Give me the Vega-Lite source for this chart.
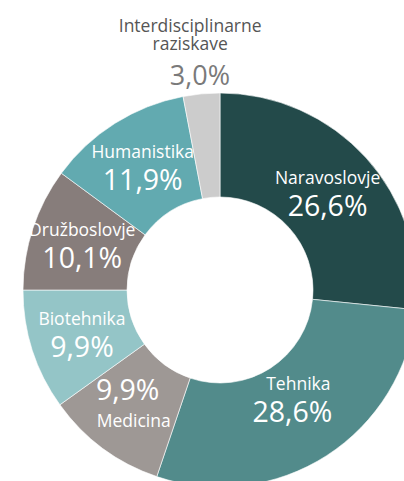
{
  "$schema": "https://vega.github.io/schema/vega-lite/v6.json",
  "width": 440,
  "height": 580,
  "autosize": "none",
  "padding": 0,
  "background": "#ffffff",
  "config": {
    "view": {"stroke": null},
    "locale": {"number": {"decimal": ",", "thousands": ".", "grouping": [3], "currency": ["", " €"]}},
    "text": {"font": "Open Sans"}
  },
  "data": {
    "values": [
      {"idx": 1, "category": "Naravoslovje", "share": 0.266},
      {"idx": 2, "category": "Tehnika", "share": 0.286},
      {"idx": 3, "category": "Medicina", "share": 0.099},
      {"idx": 4, "category": "Biotehnika", "share": 0.099},
      {"idx": 5, "category": "Družboslovje", "share": 0.101},
      {"idx": 6, "category": "Humanistika", "share": 0.119},
      {"idx": 7, "category": "Interdisciplinarne raziskave", "share": 0.030}
    ]
  },
  "encoding": {
    "theta": {"field": "share", "type": "quantitative", "stack": true},
    "order": {"field": "idx", "type": "quantitative"},
    "detail": {"field": "category", "type": "nominal"}
  },
  "layer": [
    {
      "mark": {"type": "arc", "outerRadius": 197, "innerRadius": 93, "stroke": "#ffffff", "strokeWidth": 0.6},
      "encoding": {
        "color": {
          "field": "category",
          "type": "nominal",
          "legend": null,
          "scale": {
            "domain": ["Naravoslovje", "Tehnika", "Medicina", "Biotehnika", "Družboslovje", "Humanistika", "Interdisciplinarne raziskave"],
            "range": ["#234a4a", "#528b8b", "#9e9895", "#94c5c7", "#877d7b", "#62aab0", "#cccccc"]
          }
        }
      }
    },
    {
      "mark": {"type": "text", "radius": 145, "dy": -14, "fontSize": 17.5, "fill": "#ffffff"},
      "encoding": {
        "text": {
          "condition": {"test": "indexof(['Medicina', 'Tehnika', 'Interdisciplinarne raziskave'], datum.category) >= 0", "value": ""},
          "field": "category"
        }
      }
    },
    {
      "mark": {"type": "text", "radius": 145, "dy": 14, "fontSize": 28.5, "fill": "#ffffff"},
      "encoding": {
        "text": {
          "condition": {"test": "indexof(['Medicina', 'Tehnika', 'Interdisciplinarne raziskave'], datum.category) >= 0", "value": ""},
          "field": "share", "type": "quantitative", "format": ".1%"
        }
      }
    },
    {
      "mark": {"type": "text", "radius": 130, "dx": 8, "dy": -14, "fontSize": 17.5, "fill": "#ffffff"},
      "encoding": {
        "text": {
          "condition": {"test": "datum.category === 'Tehnika'", "field": "category"},
          "value": ""
        }
      }
    },
    {
      "mark": {"type": "text", "radius": 130, "dx": 2, "dy": 14, "fontSize": 28.5, "fill": "#ffffff"},
      "encoding": {
        "text": {
          "condition": {"test": "datum.category === 'Tehnika'", "field": "share", "type": "quantitative", "format": ".1%"},
          "value": ""
        }
      }
    },
    {
      "mark": {"type": "text", "radius": 145, "dy": 16, "fontSize": 17.5, "fill": "#ffffff"},
      "encoding": {
        "text": {
          "condition": {"test": "datum.category === 'Medicina'", "field": "category"},
          "value": ""
        }
      }
    },
    {
      "mark": {"type": "text", "radius": 145, "dx": -6, "dy": -15, "fontSize": 28.5, "fill": "#ffffff"},
      "encoding": {
        "text": {
          "condition": {"test": "datum.category === 'Medicina'", "field": "share", "type": "quantitative", "format": ".1%"},
          "value": ""
        }
      }
    },
    {
      "mark": {"type": "text", "radius": 264, "dx": -5, "fontSize": 17.5, "fill": "#555555", "lineBreak": "|", "lineHeight": 18},
      "encoding": {
        "text": {
          "condition": {"test": "datum.category === 'Interdisciplinarne raziskave'", "value": "Interdisciplinarne|raziskave"},
          "value": ""
        }
      }
    },
    {
      "mark": {"type": "text", "radius": 214, "fontSize": 27, "fill": "#7a7a7a"},
      "encoding": {
        "text": {
          "condition": {"test": "datum.category === 'Interdisciplinarne raziskave'", "field": "share", "type": "quantitative", "format": ".1%"},
          "value": ""
        }
      }
    }
  ]
}
